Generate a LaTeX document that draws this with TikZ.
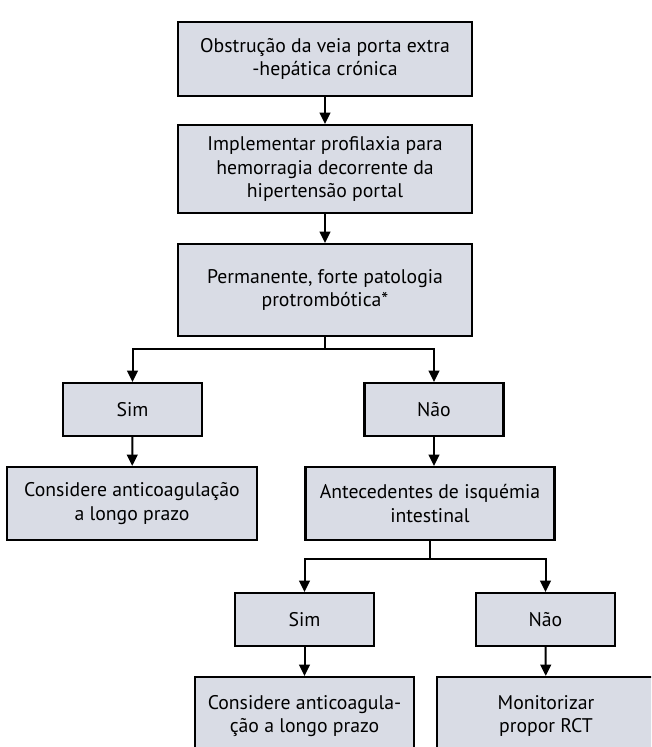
\documentclass[tikz,border=0pt]{standalone}
\usepackage{fontspec}
\setmainfont{PT Sans}
\usetikzlibrary{arrows.meta}
\definecolor{boxfill}{RGB}{217,220,229}
\begin{document}
\begin{tikzpicture}[x=0.75pt,y=-0.75pt,
  box/.style={draw=black,line width=1.6pt,fill=boxfill,align=center,inner sep=0pt,
    font=\fontsize{14.8pt}{17.4pt}\selectfont},
  arr/.style={line width=1.5pt,-{Triangle[length=8.5pt,width=8pt]}},
  ln/.style={line width=1.5pt}]
\useasboundingbox (0,0) rectangle (651,747);
\clip (0,0) rectangle (651,747);
\node[box,minimum width=220.5pt,minimum height=55.5pt] (b1) at (325,59) {Obstrução da veia porta extra\\-hepática crónica};
\node[box,minimum width=220.5pt,minimum height=66pt] (b2) at (325,169) {Implementar profilaxia para\\hemorragia decorrente da\\hipertensão portal};
\node[box,minimum width=220.5pt,minimum height=69pt] (b3) at (325,290) {Permanente, forte patologia\\protrombótica*};
\node[box,minimum width=104.25pt,minimum height=39.75pt] (sim1) at (132.5,409.5) {Sim};
\node[box,minimum width=104.25pt,minimum height=39.75pt] (nao1) at (434,409.5) {Não};
\node[box,minimum width=187.5pt,minimum height=54.75pt] (c1) at (132,503.5) {Considere anticoagulação\\a longo prazo};
\node[box,minimum width=186.75pt,minimum height=54.75pt] (ant) at (430,503.5) {Antecedentes de isquémia\\intestinal};
\node[box,minimum width=104.25pt,minimum height=39.75pt] (sim2) at (304.5,619.5) {Sim};
\node[box,minimum width=104.25pt,minimum height=39.75pt] (nao2) at (545.5,619.5) {Não};
\node[box,minimum width=164.25pt,minimum height=58.5pt] (c2) at (304.5,716) {Considere anticoagula-\\ção a longo prazo};
\node[box,minimum width=163.5pt,minimum height=58.5pt] (mon) at (546,716) {Monitorizar\\propor RCT};
\draw[arr] (b1) -- (b2);
\draw[arr] (b2) -- (b3);
\coordinate (j1) at (325,349);
\coordinate (l1) at (132.5,349);
\coordinate (r1) at (434,349);
\draw[ln] (b3.south) -- (j1);
\draw[arr] (j1) -- (l1) -- (sim1.north);
\draw[arr] (j1) -- (r1) -- (nao1.north);
\draw[arr] (sim1) -- (c1);
\draw[arr] (nao1.south) -- (nao1.south |- ant.north);
\coordinate (j2) at (430,559);
\coordinate (l2) at (304.5,559);
\coordinate (r2) at (545.5,559);
\draw[ln] (ant.south) -- (j2);
\draw[arr] (j2) -- (l2) -- (sim2.north);
\draw[arr] (j2) -- (r2) -- (nao2.north);
\draw[arr] (sim2) -- (c2);
\draw[arr] (nao2) -- (mon);
\end{tikzpicture}
\end{document}
